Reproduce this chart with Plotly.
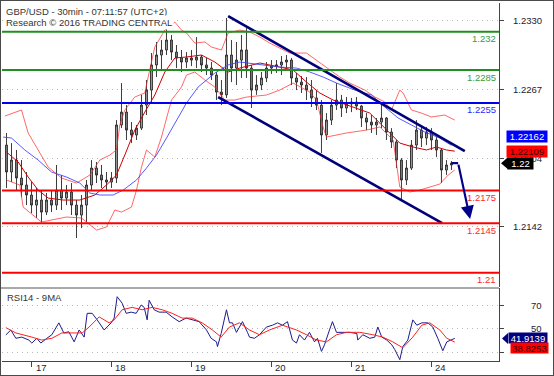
import plotly.graph_objects as go

# ---------------- data ----------------
# time axis: trading hours since the start of day "17" (weekend removed)
day_ticks = [0, 24, 48, 72, 96, 120]
day_labels = ["17", "18", "19", "20", "21", "24"]

bar_hours = [-7.5 + 1.5 * i for i in range(90)]

open_ = [1.22165, 1.21919, 1.22028, 1.21864, 1.21800, 1.21709, 1.21617, 1.21663, 1.21553, 1.21663,
         1.21617, 1.21754, 1.21681, 1.21736, 1.21617, 1.21526, 1.21617, 1.21800, 1.21955, 1.21891,
         1.21846, 1.21827, 1.21864, 1.22348, 1.22466, 1.22302, 1.22257, 1.22320, 1.22530, 1.22667,
         1.22896, 1.22987, 1.23033, 1.23124, 1.23014, 1.22960, 1.22923, 1.22960, 1.22941, 1.22969,
         1.22896, 1.22868, 1.22804, 1.22649, 1.22623, 1.22987, 1.22868, 1.22941, 1.23033, 1.22868,
         1.22667, 1.22713, 1.22777, 1.22868, 1.22886, 1.22896, 1.22923, 1.22941, 1.22777, 1.22740,
         1.22713, 1.22667, 1.22595, 1.22530, 1.22257, 1.22393, 1.22530, 1.22576, 1.22503, 1.22540,
         1.22558, 1.22521, 1.22412, 1.22375, 1.22348, 1.22375, 1.22412, 1.22284, 1.22193, 1.22028,
         1.21846, 1.21955, 1.22165, 1.22302, 1.22229, 1.22284, 1.22211, 1.22120, 1.21937, 1.21983]
high = [1.22275, 1.22183, 1.22120, 1.22028, 1.21919, 1.21827, 1.21773, 1.21754, 1.21727, 1.21754,
        1.21983, 1.21891, 1.21800, 1.21818, 1.21663, 1.21709, 1.21846, 1.22028, 1.22010, 1.21983,
        1.21919, 1.21919, 1.22393, 1.22731, 1.22530, 1.22375, 1.22348, 1.22623, 1.22759, 1.23005,
        1.23106, 1.23124, 1.23233, 1.23170, 1.23078, 1.23033, 1.23014, 1.23033, 1.23151, 1.22987,
        1.22960, 1.22923, 1.22832, 1.22759, 1.23325, 1.23124, 1.23106, 1.23170, 1.23233, 1.22896,
        1.22804, 1.22832, 1.22923, 1.22941, 1.22941, 1.22978, 1.22987, 1.22960, 1.22823, 1.22795,
        1.22786, 1.22759, 1.22667, 1.22576, 1.22457, 1.22576, 1.22731, 1.22623, 1.22604, 1.22595,
        1.22604, 1.22530, 1.22457, 1.22439, 1.22412, 1.22549, 1.22421, 1.22320, 1.22211, 1.22046,
        1.22028, 1.22211, 1.22393, 1.22348, 1.22330, 1.22320, 1.22238, 1.22138, 1.22028, 1.22019]
low = [1.21773, 1.21827, 1.21754, 1.21690, 1.21617, 1.21544, 1.21499, 1.21462, 1.21526, 1.21553,
       1.21572, 1.21572, 1.21617, 1.21526, 1.21316, 1.21407, 1.21462, 1.21754, 1.21818, 1.21773,
       1.21754, 1.21773, 1.21818, 1.22320, 1.22211, 1.22183, 1.22211, 1.22302, 1.22439, 1.22549,
       1.22786, 1.22850, 1.22987, 1.22941, 1.22868, 1.22832, 1.22868, 1.22886, 1.22868, 1.22832,
       1.22804, 1.22759, 1.22576, 1.22530, 1.22595, 1.22740, 1.22713, 1.22777, 1.22777, 1.22503,
       1.22623, 1.22667, 1.22740, 1.22814, 1.22823, 1.22804, 1.22850, 1.22713, 1.22667, 1.22640,
       1.22576, 1.22512, 1.22485, 1.22092, 1.22211, 1.22348, 1.22485, 1.22421, 1.22457, 1.22466,
       1.22485, 1.22330, 1.22302, 1.22275, 1.22257, 1.22320, 1.22211, 1.22138, 1.21955, 1.21663,
       1.21800, 1.21937, 1.22120, 1.22147, 1.22165, 1.22120, 1.22055, 1.21818, 1.21891, 1.21937]
close = [1.21919, 1.22028, 1.21864, 1.21800, 1.21709, 1.21617, 1.21663, 1.21553, 1.21663, 1.21617,
         1.21754, 1.21681, 1.21736, 1.21617, 1.21526, 1.21617, 1.21800, 1.21955, 1.21891, 1.21846,
         1.21827, 1.21864, 1.22348, 1.22466, 1.22302, 1.22257, 1.22320, 1.22530, 1.22667, 1.22896,
         1.22987, 1.23033, 1.23124, 1.23014, 1.22960, 1.22923, 1.22960, 1.22941, 1.22969, 1.22896,
         1.22868, 1.22804, 1.22649, 1.22623, 1.22987, 1.22868, 1.22941, 1.23033, 1.22868, 1.22667,
         1.22713, 1.22777, 1.22868, 1.22886, 1.22896, 1.22923, 1.22941, 1.22777, 1.22740, 1.22713,
         1.22667, 1.22595, 1.22530, 1.22257, 1.22393, 1.22530, 1.22576, 1.22503, 1.22540, 1.22558,
         1.22521, 1.22412, 1.22375, 1.22348, 1.22375, 1.22412, 1.22284, 1.22193, 1.22028, 1.21846,
         1.21955, 1.22165, 1.22302, 1.22229, 1.22284, 1.22211, 1.22120, 1.21937, 1.21983, 1.22000]

# Bollinger bands (20) and moving average
bb_up_t = [-8, -3, -1, 2, 5, 9, 13.5, 17.5, 20.5, 23.5, 25.5, 26.5, 28, 31, 34, 35, 37, 40, 43, 45,
           46.5, 49, 52, 54, 57, 59, 62.5, 65.5, 68.5, 71.5, 77.5, 82.5, 85.5, 89.5, 92.5, 95.5, 100,
           103, 106, 108, 109.5, 110.5, 111.5, 114, 117, 120, 124, 127]
bb_up_v = [1.22430, 1.22485, 1.22275, 1.22120, 1.21964, 1.21864, 1.21818, 1.21891, 1.22028, 1.22074,
           1.22120, 1.22348, 1.22485, 1.22604, 1.22640, 1.22786, 1.23060, 1.23215, 1.23288, 1.23215,
           1.23188, 1.23096, 1.23106, 1.23060, 1.23033, 1.23188, 1.23215, 1.23197, 1.23151, 1.23096,
           1.23005, 1.23005, 1.22941, 1.22850, 1.22786, 1.22731, 1.22667, 1.22604, 1.22558, 1.22485,
           1.22604, 1.22667, 1.22640, 1.22485, 1.22457, 1.22421, 1.22439, 1.22393]
bb_mid_t = [-7.5, -4, -1, 2, 5, 9.5, 14.5, 19, 22.5, 25.5, 28, 31, 34, 37, 40, 43, 46.5, 51, 55, 59,
            62.5, 68.5, 74.5, 78.5, 82.5, 86.5, 90.5, 96.5, 101.5, 104.5, 107.5, 110.5, 114.5, 118.5,
            121.5, 124.5, 127]
bb_mid_v = [1.22101, 1.22010, 1.21873, 1.21754, 1.21681, 1.21663, 1.21663, 1.21709, 1.21800, 1.21891,
            1.22074, 1.22302, 1.22466, 1.22622, 1.22832, 1.22960, 1.22969, 1.22987, 1.22923, 1.22832,
            1.22868, 1.22914, 1.22877, 1.22850, 1.22740, 1.22640, 1.22576, 1.22512, 1.22457, 1.22366,
            1.22275, 1.22183, 1.22147, 1.22120, 1.22147, 1.22120, 1.22109]
bb_lo_t = [-7.5, -3.5, -2.5, 3, 10.5, 15, 19.5, 22.5, 25, 27, 30, 31.5, 33, 34.5, 37, 39, 42, 45, 46.5,
           49, 52, 55, 58, 61, 64.5, 70.5, 74.5, 78.5, 83.5, 85.5, 87.5, 88.5, 94.5, 100.5, 104.5,
           108.5, 110.5, 113.5, 116.5, 119.5, 122.5, 125, 127]
bb_lo_v = [1.21846, 1.21800, 1.21599, 1.21462, 1.21508, 1.21499, 1.21389, 1.21417, 1.21572, 1.21553,
           1.21599, 1.21754, 1.21964, 1.22120, 1.22055, 1.22238, 1.22576, 1.22695, 1.22804, 1.22832,
           1.22759, 1.22695, 1.22576, 1.22576, 1.22603, 1.22622, 1.22667, 1.22731, 1.22649, 1.22576,
           1.22330, 1.22238, 1.22275, 1.22302, 1.22330, 1.22211, 1.21782, 1.21736, 1.21754, 1.21782,
           1.21809, 1.21891, 1.21937]
ma_t = [-8.5, -6, -2, 2, 6, 10.5, 14.5, 17.5, 20.5, 24.5, 27.5, 31.5, 34.5, 37.5, 40.5, 43.5, 46.5,
        50, 55, 59, 62.5, 69.5, 74.5, 79.5, 83.5, 87.5, 91.5, 97, 102, 106, 110, 114, 118, 122.5, 126]
ma_v = [1.22238, 1.22229, 1.22120, 1.22028, 1.21919, 1.21873, 1.21818, 1.21727, 1.21709, 1.21709,
        1.21754, 1.21846, 1.21955, 1.22074, 1.22229, 1.22393, 1.22549, 1.22695, 1.22822, 1.22896,
        1.22923, 1.22896, 1.22877, 1.22868, 1.22832, 1.22786, 1.22731, 1.22667, 1.22622, 1.22512,
        1.22412, 1.22348, 1.22284, 1.22229, 1.22162]

# RSI 14 and its 9-period MA
rsi_t = [-7.7, -6.2, -4.7, -2.9, -0.8, 0.1, 1.6, 2.8, 4.6, 6.1, 8.2, 9.7, 11.2, 12.8, 14.3, 15.8, 16.7,
         18.2, 19.7, 21.8, 23.9, 24.8, 25.7, 27.2, 28.4, 29.9, 31.4, 32.9, 33.8, 34.7, 35.3, 36.8, 38.3,
         40.4, 42.2, 44.3, 46.4, 48.2, 50.3, 52.5, 53.9, 55.5, 55.8, 56.9, 58.5, 59.4, 60.3, 61.5, 63.3,
         64.8, 65.4, 66.9, 68.4, 70.5, 72.3, 73.8, 75.3, 76.8, 78.3, 79.5, 80.4, 81.9, 83.4, 84.9, 85.8,
         87.0, 87.9, 89.4, 90.3, 91.5, 93.3, 95.5, 97.6, 97.9, 99.4, 101.5, 103.0, 103.9, 105.1, 106.6,
         108.1, 109.0, 110.5, 111.4, 112.9, 114.4, 115.6, 117.1, 118.9, 120.4, 121.9, 123.4, 124.6,
         126.1, 127.0]
rsi_v = [44.8, 49, 42, 43, 40.5, 38, 42, 38, 42, 45, 55, 46.5, 47.5, 39, 49, 43, 63, 63, 57.5, 49,
         55, 59, 77, 71.5, 63, 64, 63, 70, 68, 57.5, 74, 66, 64, 64, 60, 56, 59, 57.5, 56, 49,
         42, 39, 35, 46, 66, 55, 55, 47, 56, 47, 43, 42, 45, 51.5, 53, 55, 53, 56, 40.5, 38,
         45, 40.5, 47, 39, 42, 31, 36.5, 49, 56, 47, 47, 47, 46, 40.5, 45, 42, 43, 51.5, 43, 40.5,
         36.5, 32.5, 24, 35, 40.5, 57.5, 53, 55, 55, 51.5, 42, 31.5, 39, 41, 41.9139]
rsima_t = [-7.7, -4.7, 0.1, 3.1, 6.1, 9.1, 12.2, 15.2, 17.3, 20.3, 23.3, 24.8, 27.2, 30.2, 33.2, 36.2,
           39.2, 42.2, 45.2, 48.2, 51.2, 54.3, 56.9, 59.4, 62.4, 65.4, 68.4, 71.4, 75.3, 79.5, 82.5,
           85.5, 88.5, 91.5, 94.6, 98.5, 102.4, 105.4, 108.4, 111.4, 114.4, 117.1, 119.5, 122.5,
           124.6, 127.0]
rsima_v = [51, 46.5, 43, 40.5, 42, 46.5, 46.5, 46.5, 51.5, 60, 55, 57.5, 66, 68, 66, 68, 66, 63, 59, 59,
           55, 49, 43, 51.5, 55, 49, 45, 49, 53, 49, 45, 40.5, 39, 45, 47, 47, 45, 43, 39, 34,
           43, 53, 55, 49, 42, 38.8253]

# drawn channel, levels and projection arrow
chan_up_t = [59.0, 130.0]
chan_up_v = [1.23343, 1.22110]
chan_lo_t = [56.0, 123.2]
chan_lo_v = [1.22603, 1.21453]
arrow_t = [126.0, 128.0, 131.6]
arrow_v = [1.22000, 1.22000, 1.21490]

levels = [1.2320, 1.2285, 1.2255, 1.2175, 1.2145, 1.2100]
level_labels = ["1.232", "1.2285", "1.2255", "1.2175", "1.2145", "1.21"]
level_kind = ["res", "res", "pivot", "sup", "sup", "sup"]

price_ticks = [1.2142, 1.2204, 1.2267, 1.2330]
rsi_grid = [30, 50, 70]
rsi_labelled = [50, 70]

# ---------------- styling ----------------
W, H = 554, 376
FONT = "Liberation Sans, Arial, sans-serif"
X_LEFT, X_RIGHT = 2, 499          # plot area in px
MAIN_TOP, MAIN_BOT = 3, 287
RSI_TOP, RSI_BOT = 288, 361
px_per_hour = 3.333
x_first_tick_px = 31.5
xr = [(X_LEFT - x_first_tick_px) / px_per_hour, (X_RIGHT - x_first_tick_px) / px_per_hour]
level_color = {"res": "#1f8f1f", "pivot": "#0000ee", "sup": "#ff0000"}
level_text_color = {"res": "#3c9a3c", "pivot": "#2b2bff", "sup": "#ff2a2a"}


def py(y):
    return 1 - y / H


def pxx(x):
    return x / W


fig = go.Figure()

fig.add_trace(go.Candlestick(
    x=bar_hours, open=open_, high=high, low=low, close=close,
    increasing=dict(line=dict(color="#262626", width=0.9), fillcolor="#a0a0a0"),
    decreasing=dict(line=dict(color="#262626", width=0.9), fillcolor="#808080"),
    whiskerwidth=0, showlegend=False, hoverinfo="skip", xaxis="x", yaxis="y"))

for t, v, col in [(bb_up_t, bb_up_v, "rgba(255,40,40,0.7)"),
                  (bb_lo_t, bb_lo_v, "rgba(255,40,40,0.7)"),
                  (bb_mid_t, bb_mid_v, "#d00000"),
                  (ma_t, ma_v, "rgba(60,60,255,0.85)")]:
    fig.add_trace(go.Scatter(x=t, y=v, mode="lines", line=dict(color=col, width=1),
                             showlegend=False, hoverinfo="skip", xaxis="x", yaxis="y"))

for t, v in [(chan_up_t, chan_up_v), (chan_lo_t, chan_lo_v)]:
    fig.add_trace(go.Scatter(x=t, y=v, mode="lines", line=dict(color="#00007a", width=2.6),
                             showlegend=False, hoverinfo="skip", xaxis="x", yaxis="y"))

fig.add_trace(go.Scatter(x=arrow_t[:2], y=arrow_v[:2], mode="lines",
                         line=dict(color="#00008b", width=2.2),
                         showlegend=False, hoverinfo="skip", xaxis="x", yaxis="y"))

fig.add_trace(go.Scatter(x=rsi_t, y=rsi_v, mode="lines", line=dict(color="#1c1c8c", width=1),
                         showlegend=False, hoverinfo="skip", xaxis="x2", yaxis="y2"))
fig.add_trace(go.Scatter(x=rsima_t, y=rsima_v, mode="lines", line=dict(color="#ff2020", width=1),
                         showlegend=False, hoverinfo="skip", xaxis="x2", yaxis="y2"))

shapes = []
annotations = []

# level lines
for lv, lab, kind in zip(levels, level_labels, level_kind):
    shapes.append(dict(type="line", xref="x domain", yref="y", x0=0, x1=1, y0=lv, y1=lv,
                       line=dict(color=level_color[kind], width=2), layer="above"))
    annotations.append(dict(xref="paper", yref="y", x=pxx(498), y=lv, yshift=-7,
                            xanchor="right", yanchor="middle", showarrow=False, text=lab,
                            font=dict(family=FONT, size=9.5, color=level_text_color[kind])))

# projection arrow
annotations.append(dict(xref="x", yref="y", axref="x", ayref="y",
                        x=arrow_t[2], y=arrow_v[2], ax=arrow_t[1], ay=arrow_v[1],
                        text="", showarrow=True, arrowhead=2, arrowsize=1.2,
                        arrowwidth=2.2, arrowcolor="#00008b", standoff=0))

# panel separator and frame
shapes.append(dict(type="line", xref="paper", yref="paper", x0=0, x1=pxx(X_RIGHT),
                   y0=py(RSI_TOP), y1=py(RSI_TOP), line=dict(color="#555555", width=1)))
shapes.append(dict(type="rect", xref="paper", yref="paper", x0=0, x1=1, y0=0, y1=1,
                   line=dict(color="#4a4a4a", width=2)))

# title texts
annotations.append(dict(xref="paper", yref="paper", x=pxx(4), y=py(11), xanchor="left",
                        yanchor="middle", showarrow=False, bgcolor="white",
                        text="GBP/USD - 30min - 07:11:57 (UTC+2)",
                        font=dict(family=FONT, size=9.5, color="#333333")))
annotations.append(dict(xref="paper", yref="paper", x=pxx(4), y=py(22), xanchor="left",
                        yanchor="middle", showarrow=False, bgcolor="white",
                        text="Research \u00a9 2016 TRADING CENTRAL",
                        font=dict(family=FONT, size=9.5, color="#333333")))
annotations.append(dict(xref="paper", yref="paper", x=pxx(5), y=py(297), xanchor="left",
                        yanchor="middle", showarrow=False,
                        text="RSI14 - 9MA", font=dict(family=FONT, size=9.5, color="#333333")))

# axis labels
for tv in price_ticks:
    annotations.append(dict(xref="paper", yref="y", x=pxx(544), y=tv, xanchor="right",
                            yanchor="middle", showarrow=False, text=f"{tv:.4f}",
                            font=dict(family=FONT, size=9.5, color="#222233")))
for tv in rsi_labelled:
    annotations.append(dict(xref="paper", yref="y2", x=pxx(544), y=tv, xanchor="right",
                            yanchor="middle", showarrow=False, text=str(tv),
                            font=dict(family=FONT, size=9.5, color="#222233")))
for tv, lab in zip(day_ticks, day_labels):
    annotations.append(dict(xref="x2", yref="paper", x=tv, y=py(367), xshift=2,
                            xanchor="left", yanchor="middle", showarrow=False, text=lab,
                            font=dict(family=FONT, size=9.5, color="#222233")))

# last value tags
annotations.append(dict(xref="paper", yref="paper", x=pxx(506), y=py(137), xanchor="left",
                        yanchor="middle", showarrow=False, text=f"{ma_v[-1]:.5f}",
                        bgcolor="#0000ff", width=40, height=11, borderpad=0,
                        font=dict(family=FONT, size=9.5, color="white")))
annotations.append(dict(xref="paper", yref="paper", x=pxx(506), y=py(151), xanchor="left",
                        yanchor="middle", showarrow=False, text=f"{bb_mid_v[-1]:.5f}",
                        bgcolor="#ff0000", width=40, height=11, borderpad=0,
                        font=dict(family=FONT, size=9.5, color="#3a0000")))
last_txt = f"{close[-1]:.5f}".rstrip("0").rstrip(".")
annotations.append(dict(xref="paper", yref="y", x=pxx(507), y=close[-1], xanchor="left",
                        yanchor="middle", showarrow=False, text=last_txt,
                        bgcolor="#000000", width=25, height=11, borderpad=0,
                        font=dict(family=FONT, size=9.5, color="white")))
shapes.append(dict(type="path", xref="paper", yref="y", xsizemode="pixel", ysizemode="pixel",
                   xanchor=pxx(X_RIGHT), yanchor=close[-1],
                   path="M 2,0 L 9,6 L 9,-6 Z", fillcolor="#000000", line=dict(width=0)))
annotations.append(dict(xref="paper", yref="y2", x=pxx(508), y=rsi_v[-1], xanchor="left",
                        yanchor="middle", showarrow=False, text=f"{rsi_v[-1]:.4f}",
                        bgcolor="#000080", width=38, height=10, borderpad=0,
                        font=dict(family=FONT, size=9.5, color="white")))
shapes.append(dict(type="path", xref="paper", yref="y2", xsizemode="pixel", ysizemode="pixel",
                   xanchor=pxx(X_RIGHT), yanchor=rsi_v[-1],
                   path="M 3,0 L 9,5.5 L 9,-5.5 Z", fillcolor="#000080", line=dict(width=0)))
annotations.append(dict(xref="paper", yref="paper", x=pxx(510), y=py(348), xanchor="left",
                        yanchor="middle", showarrow=False, text=f"{rsima_v[-1]:.4f}",
                        bgcolor="#ff0000", width=37, height=10, borderpad=0,
                        font=dict(family=FONT, size=9.5, color="#3a0000")))

grid_common = dict(showgrid=True, gridcolor="#b8b8b8", gridwidth=1, griddash="1px,4px",
                   zeroline=False, showline=True, linecolor="#444444", linewidth=1,
                   ticks="outside", ticklen=4, tickcolor="#444444", showticklabels=False,
                   side="right", fixedrange=True)

fig.update_layout(
    width=W, height=H, margin=dict(l=0, r=0, t=0, b=0),
    paper_bgcolor="white", plot_bgcolor="white", showlegend=False,
    boxgap=0.45,
    xaxis=dict(domain=[pxx(X_LEFT), pxx(X_RIGHT)], range=xr, anchor="y",
               showgrid=False, zeroline=False, showticklabels=False, showline=False,
               rangeslider=dict(visible=False), fixedrange=True),
    xaxis2=dict(domain=[pxx(X_LEFT), pxx(X_RIGHT)], range=xr, anchor="y2", matches="x",
                tickvals=day_ticks, ticks="outside", ticklen=5, tickcolor="#444444",
                showticklabels=False, showline=True, linecolor="#444444", linewidth=1,
                showgrid=False, zeroline=False, fixedrange=True),
    yaxis=dict(domain=[py(MAIN_BOT), py(MAIN_TOP)], range=[1.20869, 1.23462], anchor="x",
               tickvals=price_ticks, **grid_common),
    yaxis2=dict(domain=[py(RSI_BOT), py(RSI_TOP)], range=[22.9, 84.3], anchor="x2",
                tickvals=rsi_grid, **grid_common),
    shapes=shapes, annotations=annotations,
)

fig.write_html("out.html")
